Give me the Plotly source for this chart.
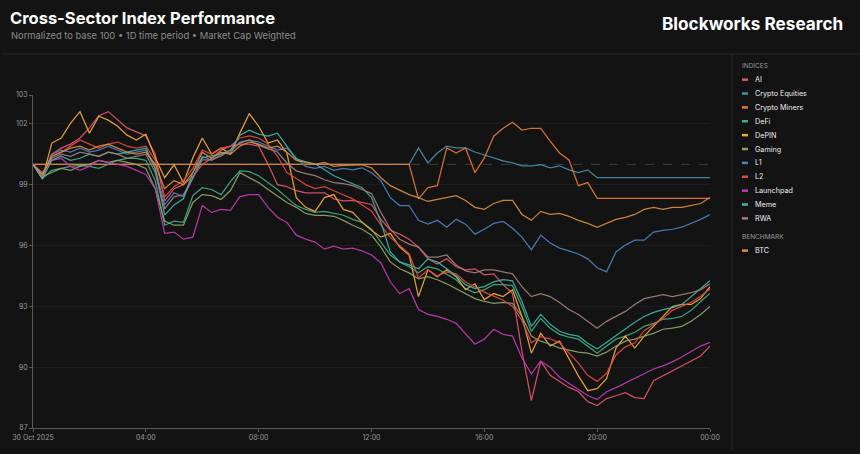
import pandas as pd
import plotly.graph_objects as go

# ---------------- data (20-minute samples, 30 Oct 2025 00:00 -> 31 Oct 2025 00:00) ----------------
times = pd.date_range("2025-10-30 00:00", "2025-10-31 00:00", freq="20min")

ai = [100.0, 99.4, 100.5, 100.8, 101.0, 101.3, 101.8, 102.4, 102.6, 102.2, 101.8, 101.6, 101.4,
      100.5, 98.2, 98.8, 99.0, 99.4, 100.0, 100.3, 100.7, 100.9, 101.0, 101.0, 100.9,
      100.0, 99.0, 98.9, 98.7, 98.6, 98.6, 98.6, 98.3, 98.2,
      98.22, 98.12, 98.02, 97.29, 96.75, 96.56, 96.31, 95.92, 95.34, 95.09, 95.34, 94.95, 94.8, 94.85, 94.55, 94.6, 94.07, 93.63,
      90.79, 88.35, 90.3, 89.6, 89.3, 89.0, 88.8, 88.3, 88.11, 88.45, 88.59, 88.74, 88.5, 88.45, 89.33, 89.57, 89.82, 90.06, 90.3, 90.55, 91.04]

crypto_equities = [100.0, 100.0, 100.0, 100.0, 100.0, 100.0, 100.0, 100.0, 100.0, 100.0, 100.0, 100.0, 100.0,
                   100.0, 100.0, 100.0, 100.0, 100.0, 100.0, 100.0, 100.0, 100.0, 100.0, 100.0, 100.0,
                   100.0, 100.0, 100.0, 100.0, 100.0, 100.0, 100.0, 100.0, 100.0,
                   100.0, 100.0, 100.0, 100.0, 100.0, 100.0, 100.0, 100.81, 100.07, 100.56, 100.9, 100.81, 100.81, 100.61, 100.47, 100.32, 100.17, 100.07,
                   99.93, 99.93, 99.98, 99.83, 99.93, 99.73, 99.59, 99.73, 99.34, 99.34, 99.34, 99.34, 99.34, 99.34, 99.34, 99.34, 99.34, 99.34, 99.34, 99.34, 99.34]

crypto_miners = [100.0, 100.0, 100.0, 100.0, 100.0, 100.0, 100.0, 100.0, 100.0, 100.0, 100.0, 100.0, 100.0,
                 100.0, 100.0, 100.0, 100.0, 100.0, 100.0, 100.0, 100.0, 100.0, 100.0, 100.0, 100.0,
                 100.0, 100.0, 100.0, 100.0, 100.0, 100.0, 100.0, 100.0, 100.0,
                 100.0, 100.0, 100.0, 100.0, 100.0, 100.0, 100.0, 98.3, 98.85, 98.95, 100.81, 100.56, 100.81, 99.59, 100.32, 101.39, 101.78, 102.08,
                 101.69, 101.78, 101.78, 101.15, 100.56, 100.22, 98.95, 99.1, 98.32, 98.32, 98.32, 98.32, 98.32, 98.32, 98.32, 98.32, 98.32, 98.32, 98.32, 98.32, 98.32]

defi = [100.0, 99.3, 99.7, 99.8, 99.9, 99.95, 99.9, 99.8, 100.0, 100.2, 100.3, 100.3, 100.2,
        99.2, 97.0, 97.2, 97.14, 98.46, 98.85, 98.76, 98.51, 99.15, 99.68, 99.64, 99.44,
        99.1, 98.76, 98.36, 97.97, 97.78, 97.63, 97.68, 97.58, 97.49,
        97.29, 97.14, 96.8, 96.17, 95.53, 95.19, 94.95, 94.65, 94.95, 94.85, 94.6, 94.31, 93.87, 93.67, 93.82, 94.07, 94.07, 94.02,
        92.99, 91.77, 92.4, 91.92, 91.62, 91.48, 91.38, 91.04, 90.69, 91.04, 91.38, 91.53, 91.72, 92.01, 92.16, 92.36, 92.4, 92.5, 92.8, 93.24, 93.63]

depin = [100.0, 99.3, 101.05, 101.3, 102.03, 102.6, 101.54, 102.37, 102.18, 101.88, 101.44, 101.2, 101.49,
         100.32, 99.34, 99.98, 99.1, 100.32, 101.3, 100.51, 100.81, 100.51, 101.54, 102.5, 101.88,
         101.05, 101.2, 100.56, 98.36, 97.88, 97.68, 98.36, 98.51, 97.78,
         97.63, 97.14, 96.75, 96.41, 96.6, 95.92, 95.53, 93.48, 94.8, 94.46, 94.8, 94.46, 93.82, 94.11, 93.33, 93.63, 93.48, 93.82,
         92.5, 90.69, 91.67, 91.04, 91.28, 90.4, 89.57, 88.84, 88.94, 89.43, 90.94, 91.53, 90.94, 91.53, 92.01, 92.5, 92.99, 93.09, 93.09, 93.38, 93.97]

gaming = [100.0, 99.4, 99.6, 99.8, 99.7, 99.9, 100.0, 100.2, 100.1, 100.2, 100.1, 100.0, 99.8,
          98.8, 97.2, 97.0, 97.0, 98.12, 98.51, 98.46, 98.27, 98.71, 99.59, 99.34, 99.1,
          98.76, 98.46, 98.12, 97.88, 97.58, 97.49, 97.49, 97.44, 97.24,
          97.0, 96.8, 96.51, 95.92, 95.19, 94.85, 94.65, 94.36, 94.46, 94.31, 94.11, 93.87, 93.63, 93.38, 93.24, 93.14, 93.19, 93.14,
          92.5, 91.53, 91.28, 91.13, 90.94, 90.84, 90.74, 90.69, 90.55, 90.74, 91.04, 91.28, 91.38, 91.53, 91.67, 91.87, 91.92, 92.01, 92.26, 92.6, 92.99]

l1 = [100.0, 99.4, 100.5, 100.7, 100.6, 100.8, 100.6, 100.7, 100.9, 100.7, 100.5, 100.6, 100.7,
      99.8, 98.0, 98.6, 98.4, 99.3, 100.4, 100.2, 100.5, 100.6, 101.1, 101.2, 101.1,
      100.9, 100.7, 100.8, 100.3, 99.9, 99.8, 99.9, 99.7, 99.8,
      99.73, 99.83, 99.59, 99.2, 98.36, 97.97, 97.97, 97.24, 97.05, 97.24, 96.9, 97.29, 97.05, 96.56, 96.8, 97.09, 97.19, 96.85,
      96.41, 95.78, 96.51, 96.12, 95.87, 95.73, 95.58, 95.34, 94.9, 94.7, 95.68, 96.02, 96.26, 96.26, 96.66, 96.75, 96.8, 96.9, 97.09, 97.29, 97.53]

l2 = [100.0, 99.4, 100.4, 100.6, 100.9, 101.2, 101.0, 100.8, 101.0, 101.1, 100.9, 100.8, 100.9,
      100.2, 98.4, 98.9, 99.2, 99.8, 100.7, 100.5, 100.8, 100.9, 101.3, 101.4, 101.3,
      101.0, 100.4, 99.6, 99.3, 99.0, 98.8, 98.9, 98.7, 98.5,
      98.3, 98.0, 97.7, 97.0, 96.4, 96.0, 95.6, 94.4, 94.8, 94.5, 94.7, 94.6, 94.2, 93.95, 93.7, 93.5, 93.3, 93.0,
      92.3, 91.2, 91.5, 91.4, 91.2, 90.7, 90.2, 89.6, 89.3, 89.7, 90.6, 91.0, 91.2, 91.8, 92.1, 92.4, 92.8, 93.0, 93.2, 93.5, 93.85]

launchpad = [100.0, 99.6, 100.2, 100.3, 99.9, 99.7, 99.9, 100.2, 100.1, 100.0, 99.9, 99.7, 99.5,
             98.8, 96.6, 96.66, 96.31, 96.41, 97.97, 97.63, 97.78, 97.73, 98.41, 98.51, 98.51,
             97.88, 97.39, 97.14, 96.51, 96.31, 96.17, 95.82, 95.97, 95.82,
             95.87, 95.73, 95.53, 95.14, 94.21, 93.63, 93.87, 92.84, 92.6, 92.5, 92.36, 92.16, 91.67, 91.13, 91.38, 91.87, 91.62, 91.53,
             90.45, 89.67, 90.3, 90.0, 89.5, 89.2, 88.9, 88.6, 88.4, 88.79, 88.99, 89.23, 89.47, 89.67, 89.91, 90.06, 90.26, 90.5, 90.79, 91.04, 91.23]

meme = [100.0, 99.3, 100.2, 100.4, 100.2, 100.3, 100.5, 100.4, 100.6, 100.5, 100.6, 100.7, 100.8,
        99.8, 97.5, 98.0, 98.3, 99.6, 100.32, 100.42, 100.51, 100.71, 101.44, 101.69, 101.49,
        101.39, 101.54, 100.9, 100.27, 100.12, 100.03, 99.73, 99.44, 99.24,
        99.05, 98.85, 98.36, 97.14, 95.68, 95.19, 95.04, 94.85, 95.34, 95.19, 94.85, 94.51, 94.07, 93.87, 93.97, 94.21, 94.31, 94.26,
        93.24, 92.01, 92.6, 92.11, 91.77, 91.62, 91.53, 91.18, 90.89, 91.23, 91.53, 91.87, 92.21, 92.5, 92.7, 92.84, 92.94, 93.09, 93.48, 93.87, 94.26]

rwa = [100.0, 99.5, 100.3, 100.5, 100.4, 100.6, 100.5, 100.4, 100.6, 100.5, 100.3, 100.4, 100.5,
       99.6, 97.8, 98.4, 98.5, 99.34, 100.22, 100.22, 100.42, 100.71, 101.05, 101.2, 100.95,
       100.76, 100.61, 100.07, 99.68, 99.54, 99.44, 99.24, 99.1, 99.05,
       98.95, 98.76, 98.56, 97.63, 96.8, 96.31, 96.07, 95.92, 95.43, 95.43, 95.53, 95.04, 94.75, 94.65, 94.8, 94.8, 94.7, 94.6,
       93.97, 93.48, 93.63, 93.48, 93.19, 92.84, 92.6, 92.26, 91.92, 92.26, 92.5, 92.75, 93.09, 93.38, 93.48, 93.58, 93.48, 93.58, 93.67, 93.82, 94.11]

btc = [100.0, 99.5, 100.4, 100.6, 100.8, 100.9, 100.7, 100.9, 101.0, 100.8, 100.6, 100.5, 100.6,
       100.0, 98.8, 99.2, 99.0, 99.6, 100.6, 100.3, 100.6, 100.5, 100.9, 101.1, 101.0,
       100.8, 100.9, 100.6, 100.2, 100.1, 100.0, 100.1, 99.9, 99.95,
       99.98, 99.98, 99.83, 99.34, 98.95, 98.71, 98.51, 98.36, 98.17, 98.27, 98.36, 98.46, 98.22, 97.88, 97.78, 98.07, 98.22, 98.22,
       97.53, 97.24, 97.68, 97.53, 97.58, 97.44, 97.24, 97.09, 96.9, 97.09, 97.29, 97.39, 97.53, 97.78, 97.88, 97.78, 97.88, 97.88, 97.97, 98.07, 98.36]

index_names = ["AI", "Crypto Equities", "Crypto Miners", "DeFi", "DePIN", "Gaming",
               "L1", "L2", "Launchpad", "Meme", "RWA"]
index_values = [ai, crypto_equities, crypto_miners, defi, depin, gaming,
                l1, l2, launchpad, meme, rwa]
benchmark_names = ["BTC"]
benchmark_values = [btc]

y_ticks = [87, 90, 93, 96, 99, 102]
y_max = 103.42
x_tick_times = pd.date_range("2025-10-30 00:00", "2025-10-31 00:00", freq="4h")
x_tick_text = ["30 Oct 2025", "04:00", "08:00", "12:00", "16:00", "20:00", "00:00"]

# ---------------- style ----------------
colors = {
    "AI": "#e2566c", "Crypto Equities": "#4a8fa8", "Crypto Miners": "#e67a38",
    "DeFi": "#3fae80", "DePIN": "#f2aa3c", "Gaming": "#8fa46c", "L1": "#4f80c2",
    "L2": "#e04a42", "Launchpad": "#c23bb6", "Meme": "#45b3a5", "RWA": "#a3807e",
    "BTC": "#d98d40",
}

W, H = 860, 454
L, R, T, B = 32, 710, 95, 431   # plot area in pixels


def px(x):
    return (x - L) / (R - L)


def py(y):
    return (B - y) / (B - T)


for n, v in zip(index_names + benchmark_names, index_values + benchmark_values):
    assert len(v) == len(times), (n, len(v))

fig = go.Figure()
for name, vals in zip(index_names + benchmark_names, index_values + benchmark_values):
    fig.add_trace(go.Scatter(
        x=times, y=vals, mode="lines", name=name,
        line=dict(color=colors[name], width=1.25), opacity=0.92,
        showlegend=False, hoverinfo="skip"))

shapes = [
    # base-100 reference
    dict(type="line", xref="paper", yref="y", x0=0, x1=1, y0=100, y1=100,
         line=dict(color="rgba(255,255,255,0.18)", width=1, dash="dash"), layer="below"),
    # header separator
    dict(type="line", xref="paper", yref="paper", x0=px(0), x1=px(W), y0=py(53.5), y1=py(53.5),
         line=dict(color="#2a2a2a", width=1)),
    # legend separator
    dict(type="line", xref="paper", yref="paper", x0=px(732), x1=px(732), y0=py(53.5), y1=py(H),
         line=dict(color="#2a2a2a", width=1)),
]

annotations = [
    dict(text="<b>Cross-Sector Index Performance</b>", x=px(7), y=py(17), xref="paper", yref="paper",
         xanchor="left", yanchor="middle", showarrow=False,
         font=dict(family="Inter", size=16.5, color="#ffffff")),
    dict(text="Normalized to base 100 • 1D time period • Market Cap Weighted", x=px(8), y=py(35),
         xref="paper", yref="paper", xanchor="left", yanchor="middle", showarrow=False,
         font=dict(family="Inter", size=9.4, color="#8c8c8c")),
    dict(text="<b>Blockworks Research</b>", x=px(845), y=py(23), xref="paper", yref="paper",
         xanchor="right", yanchor="middle", showarrow=False,
         font=dict(family="Inter", size=17.2, color="#ffffff")),
]

# custom legend
def legend_header(text, y):
    annotations.append(dict(text=text, x=px(740), y=py(y), xref="paper", yref="paper",
                            xanchor="left", yanchor="middle", showarrow=False,
                            font=dict(family="Inter", size=6.5, color="#9a9a9a")))


def legend_item(name, y):
    shapes.append(dict(type="line", xref="paper", yref="paper", x0=px(742), x1=px(748),
                       y0=py(y), y1=py(y), line=dict(color=colors[name], width=2.5)))
    annotations.append(dict(text=name, x=px(753.5), y=py(y), xref="paper", yref="paper",
                            xanchor="left", yanchor="middle", showarrow=False,
                            font=dict(family="Inter", size=7.2, color="#eeeeee")))


legend_header("INDICES", 66)
for i, name in enumerate(index_names):
    legend_item(name, 79.5 + i * 14)
legend_header("BENCHMARK", 238)
legend_item("BTC", 252)

fig.update_layout(
    width=W, height=H,
    margin=dict(l=L, r=W - R, t=T, b=H - B, pad=0),
    paper_bgcolor="#131313", plot_bgcolor="#131313",
    font=dict(family="Inter", color="#9a9a9a"),
    shapes=shapes, annotations=annotations,
    xaxis=dict(
        type="date", range=[times[0], times[-1]],
        tickvals=list(x_tick_times), ticktext=x_tick_text,
        showgrid=False, zeroline=False,
        showline=True, linecolor="#5a5a5a", linewidth=1,
        ticks="outside", ticklen=3, tickcolor="#5a5a5a",
        tickfont=dict(family="Inter", size=7, color="#9a9a9a"),
    ),
    yaxis=dict(
        range=[87, y_max],
        tickvals=y_ticks + [y_max], ticktext=[f"{v:.0f}" for v in y_ticks + [y_max]],
        showgrid=True, gridcolor="rgba(255,255,255,0.045)", gridwidth=1,
        zeroline=False,
        showline=True, linecolor="#5a5a5a", linewidth=1,
        ticks="outside", ticklen=3, tickcolor="#5a5a5a",
        tickfont=dict(family="Inter", size=7, color="#9a9a9a"),
    ),
)

fig.write_html(
    "out.html",
    config={"displayModeBar": False},
    post_script="document.body.style.margin='0';document.body.style.background='#131313';",
)
